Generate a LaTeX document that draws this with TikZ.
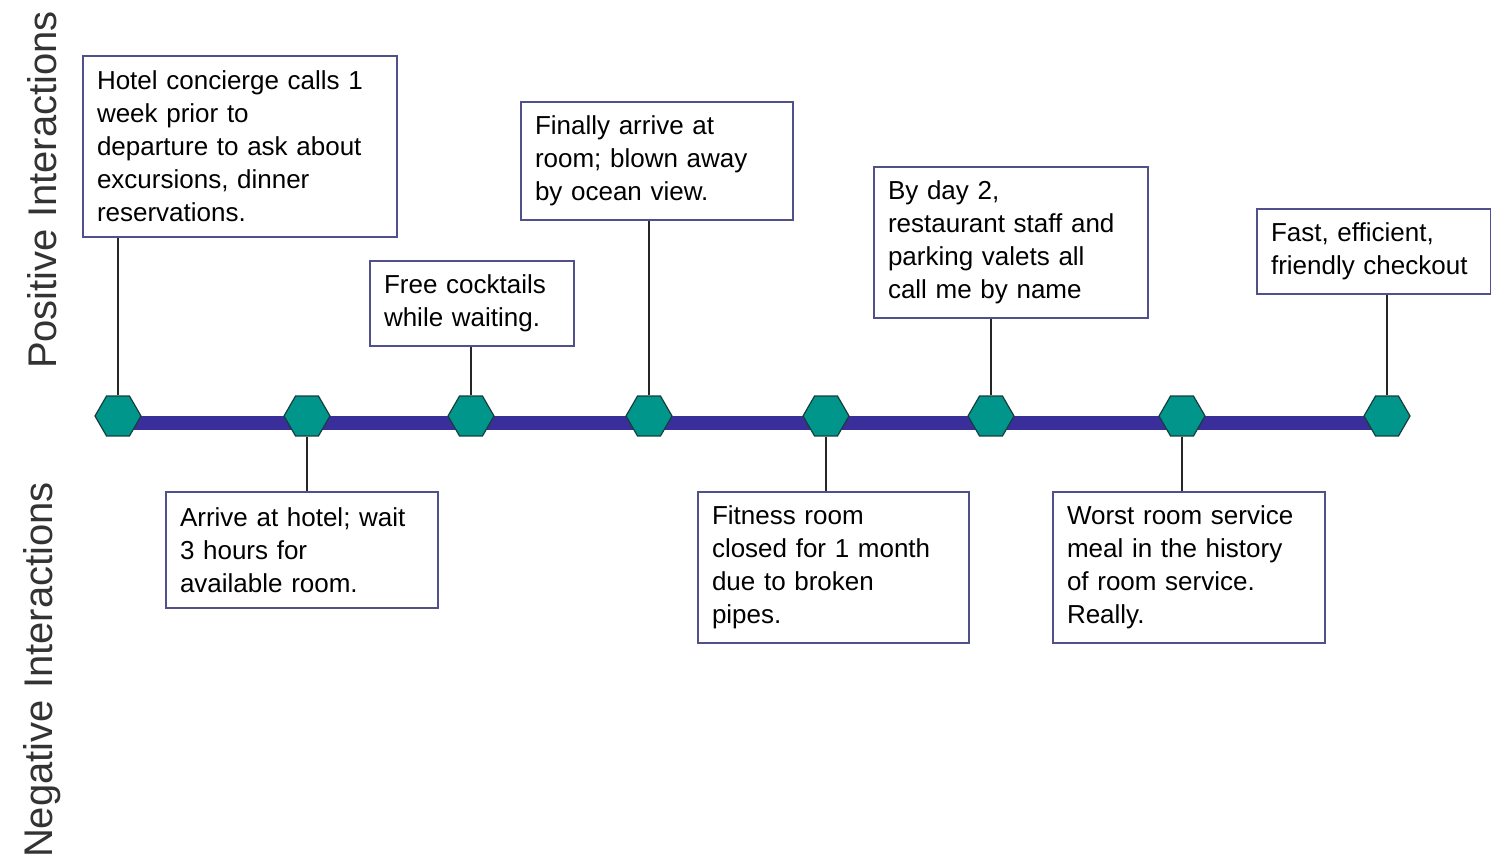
\documentclass[tikz,border=0pt]{standalone}
\usepackage{fontspec}
\setmainfont{Liberation Sans}
\usetikzlibrary{shapes.geometric,backgrounds}
\definecolor{hexfill}{RGB}{0,150,140}
\definecolor{hexline}{RGB}{25,60,60}
\definecolor{trackblue}{RGB}{58,47,154}
\definecolor{cardline}{RGB}{80,80,138}
\tikzset{
  card/.style={draw=cardline, line width=1pt, fill=white, align=left, anchor=north west,
    inner sep=7pt, font=\fontsize{13}{16.5}\selectfont},
  stop/.style={regular polygon, regular polygon sides=6, minimum size=23pt, inner sep=0pt,
    draw=hexline, line width=0.6pt, fill=hexfill},
  stem/.style={draw=black!85, line width=1pt},
  side/.style={rotate=90, font=\fontsize{20}{24}\selectfont, text=black!80}
}
\begin{document}
\begin{tikzpicture}[x=0.5pt,y=-0.5pt]
\useasboundingbox (0,0) rectangle (1491,863);
% axis labels
\node[side] (pos) at (42,190) {Positive Interactions};
\node[side] (neg) at (42,670) {Negative Interactions};
% stops on the timeline
\node[stop] (h1) at (118,416) {};
\node[stop] (h2) at (307,416) {};
\node[stop] (h3) at (471,416) {};
\node[stop] (h4) at (649,416) {};
\node[stop] (h5) at (826,416) {};
\node[stop] (h6) at (991,416) {};
\node[stop] (h7) at (1182,416) {};
\node[stop] (h8) at (1387,416) {};
% positive
\node[card, text width=143pt, minimum height=90.5pt] (b1) at (82,55) {Hotel concierge calls 1\\week prior to\\departure to ask about\\excursions, dinner\\reservations.};
\node[card, text width=88pt, minimum height=41pt] (b2) at (369,260) {Free cocktails\\while waiting.};
\node[card, text width=122pt, minimum height=58pt] (b3) at (520,101) {Finally arrive at\\room; blown away\\by ocean view.};
\node[card, text width=123pt, minimum height=74pt] (b4) at (873,166) {By day 2,\\restaurant staff and\\parking valets all\\call me by name};
\node[card, text width=103pt, minimum height=39pt] (b5) at (1256,208) {Fast, efficient,\\friendly checkout};
% negative
\node[card, text width=122pt, minimum height=58pt] (n1) at (165,491) {Arrive at hotel; wait\\3 hours for\\available room.};
\node[card, text width=121.5pt, minimum height=73.5pt] (n2) at (697,491) {Fitness room\\closed for 1 month\\due to broken\\pipes.};
\node[card, text width=122pt, minimum height=73.5pt] (n3) at (1052,491) {Worst room service\\meal in the history\\of room service.\\Really.};
\begin{scope}[on background layer]
\draw[trackblue, line width=7pt] ([yshift=-3.5pt]h1.center) -- ([yshift=-3.5pt]h8.center);
\draw[stem] (h1) -- (h1 |- b1.south);
\draw[stem] (h3) -- (h3 |- b2.south);
\draw[stem] (h4) -- (h4 |- b3.south);
\draw[stem] (h6) -- (h6 |- b4.south);
\draw[stem] (h8) -- (h8 |- b5.south);
\draw[stem] (h2) -- (h2 |- n1.north);
\draw[stem] (h5) -- (h5 |- n2.north);
\draw[stem] (h7) -- (h7 |- n3.north);
\end{scope}
\end{tikzpicture}
\end{document}
